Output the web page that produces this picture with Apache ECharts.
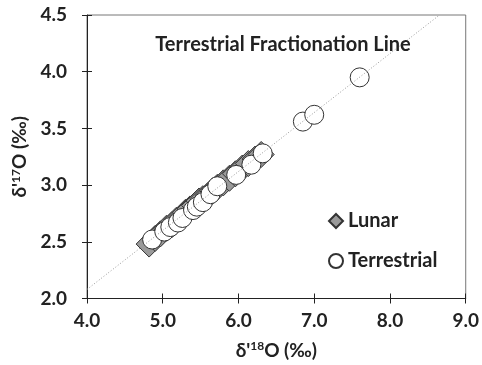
<!DOCTYPE html>
<html><head><meta charset="utf-8">
<script src="https://cdn.jsdelivr.net/npm/echarts@6/dist/echarts.min.js"></script>
<style>html,body{margin:0;padding:0;background:#fff}#c{width:482px;height:365px}</style>
</head><body><div id="c"></div>
<script>
var lunarX = [4.82,4.9,4.97,5.05,5.12,5.18,5.25,5.3,5.36,5.42,5.48,5.53,5.6,5.66,5.72,5.8,5.88,5.96,6.05,6.13,6.22,6.3];
var lunarY = [2.48,2.53,2.57,2.62,2.65,2.69,2.72,2.76,2.79,2.82,2.86,2.88,2.91,2.95,2.98,3.02,3.06,3.1,3.15,3.19,3.23,3.27];
var terrX = [4.86,5.02,5.1,5.2,5.26,5.4,5.45,5.53,5.63,5.72,5.97,6.17,6.32,6.85,7.0,7.6];
var terrY = [2.52,2.59,2.63,2.67,2.71,2.78,2.81,2.85,2.92,2.99,3.09,3.18,3.28,3.56,3.62,3.95];
var tflX = [4.0, 8.654];
var tflY = [2.08, 4.5];
var xTicks = {min:4.0, max:9.0, interval:1.0};
var yTicks = {min:2.0, max:4.5, interval:0.5};

function pairs(a,b){return a.map(function(v,i){return [v,b[i]];});}
var FONT = 'Lato';
var TXT = '#222';
var chart = echarts.init(document.getElementById('c'));
var baseX = {type:'value', min:xTicks.min, max:xTicks.max, interval:xTicks.interval, splitLine:{show:false}};
var baseY = {type:'value', min:yTicks.min, max:yTicks.max, interval:yTicks.interval, splitLine:{show:false}};
var supStyle = {fontFamily:FONT, fontWeight:'bold', fontSize:12, color:TXT, verticalAlign:'top', padding:[0,0,8,0]};
chart.setOption({
  animation:false,
  textStyle:{fontFamily:FONT},
  grid:{left:87, right:15, top:15, bottom:65, show:true, borderColor:'#777', borderWidth:1},
  title:{text:'Terrestrial Fractionation Line', left:278, top:30, textAlign:'center',
    textStyle:{fontFamily:FONT, fontWeight:'bold', fontSize:20, color:TXT}},
  legend:{data:['Lunar','Terrestrial'], orient:'vertical', left:323, top:206, itemGap:20,
    itemWidth:14, itemHeight:14, textStyle:{fontFamily:FONT, fontWeight:'bold', fontSize:20, color:TXT}},
  xAxis:[
    Object.assign({}, baseX, {
      axisLine:{lineStyle:{color:TXT, width:1}},
      axisTick:{inside:false, length:5, lineStyle:{color:TXT}},
      axisLabel:{margin:13, fontFamily:FONT, fontWeight:'bold', fontSize:19, color:TXT,
        formatter:function(v){return v.toFixed(1);}},
      name:"δ'{s|18}O (‰)", nameLocation:'middle', nameGap:42,
      nameTextStyle:{fontFamily:FONT, fontWeight:'bold', fontSize:19, color:TXT, rich:{s:supStyle}}
    }),
    Object.assign({}, baseX, {position:'bottom',
      axisLine:{show:false}, axisTick:{inside:true, length:5, lineStyle:{color:TXT}}, axisLabel:{show:false}})
  ],
  yAxis:[
    Object.assign({}, baseY, {
      axisLine:{lineStyle:{color:TXT, width:1}},
      axisTick:{inside:false, length:5, lineStyle:{color:TXT}},
      axisLabel:{margin:20, fontFamily:FONT, fontWeight:'bold', fontSize:19, color:TXT,
        formatter:function(v){return v.toFixed(1);}},
      name:"δ'{s|17}O (‰)", nameLocation:'middle', nameGap:52, nameRotate:90,
      nameTextStyle:{fontFamily:FONT, fontWeight:'bold', fontSize:19, color:TXT, rich:{s:supStyle}}
    }),
    Object.assign({}, baseY, {position:'left',
      axisLine:{show:false}, axisTick:{inside:true, length:5, lineStyle:{color:TXT}}, axisLabel:{show:false}})
  ],
  series:[
    {name:'Lunar', type:'scatter', symbol:'diamond', symbolSize:26, data:pairs(lunarX,lunarY),
      itemStyle:{color:'#9a9a9a', borderColor:'#333', borderWidth:1, opacity:1}, z:2},
    {name:'Terrestrial', type:'scatter', symbol:'circle', symbolSize:19, data:pairs(terrX,terrY),
      itemStyle:{color:'#fff', borderColor:'#333', borderWidth:1, opacity:1}, z:3},
    {name:'TFL', type:'line', data:pairs(tflX,tflY), symbol:'none', silent:true,
      lineStyle:{color:'#999', width:1, type:[1,2]}, z:4}
  ]
});
</script></body></html>
